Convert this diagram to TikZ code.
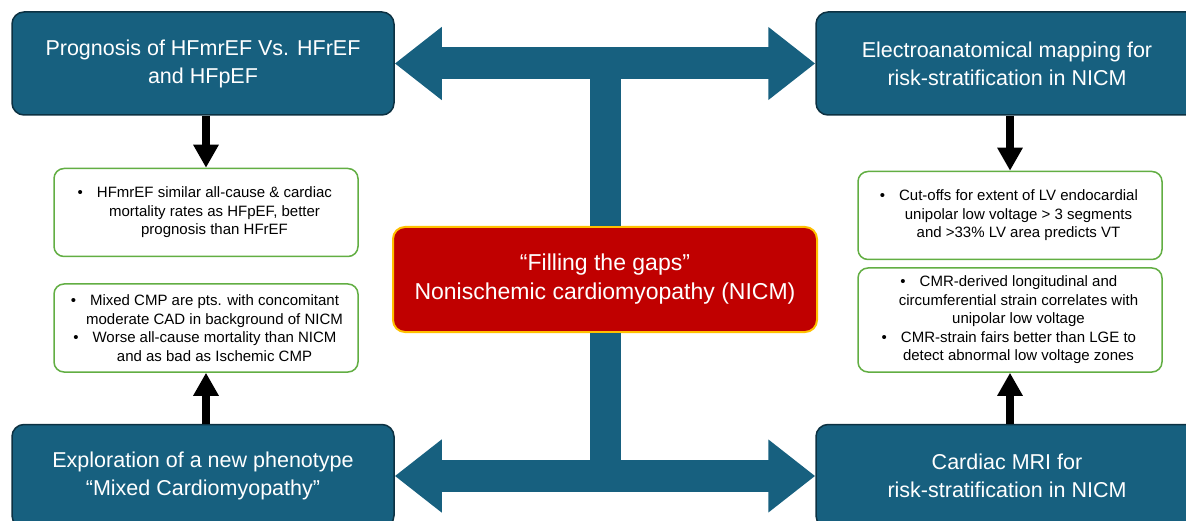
\documentclass[tikz,border=0pt]{standalone}
\usepackage{fontspec}
\setmainfont{Liberation Sans}
\usepackage{tikz}
\usetikzlibrary{arrows.meta}
\usetikzlibrary{positioning}
\definecolor{topicblue}{HTML}{17607F}
\definecolor{topicedge}{HTML}{0C3142}
\definecolor{gapred}{HTML}{C00000}
\definecolor{gapgold}{HTML}{FFC000}
\definecolor{notegreen}{HTML}{62AE43}
\tikzstyle{topic} = [draw=topicedge, line width=1.5pt, fill=topicblue, rounded corners=12pt, text=white, minimum width=382pt, minimum height=103pt, align=center, font=\fontsize{21.5}{28}\selectfont]
\tikzstyle{note} = [draw=notegreen, line width=1.5pt, fill=white, rounded corners=10pt, minimum width=304pt, minimum height=88pt, align=center, font=\fontsize{15}{18.5}\selectfont]
\tikzstyle{gap} = [draw=gapgold, line width=2pt, fill=gapred, rounded corners=12pt, text=white, minimum width=424pt, minimum height=105pt, align=center, font=\fontsize{23}{29}\selectfont]
\tikzstyle{harrow} = [topicblue, line width=32pt, {Triangle[length=47pt,width=70pt]}-{Triangle[length=47pt,width=70pt]}]
\tikzstyle{stem} = [topicblue, line width=31pt]
\tikzstyle{blackarrow} = [line width=8pt, -{Triangle[length=23pt,width=24pt]}]
\newcommand{\bpt}{\hspace*{17pt}\llap{\textbullet\hspace{14pt}}}
\newcommand{\cnt}{\hspace*{17pt}}

\begin{document}
\begin{tikzpicture}[x=1pt,y=1pt]
            \useasboundingbox (0,0) rectangle (1186,-521);
            \node (prog) [topic] at (203,-63.5) {Prognosis of HFmrEF Vs. HFrEF\\and HFpEF};
            \node (elec) [topic] at (1007,-63.5) {Electroanatomical mapping for\\risk-stratification in NICM};
            \node (explore) [topic] at (203,-476) {Exploration of a new phenotype\\“Mixed Cardiomyopathy”};
            \node (mri) [topic] at (1007,-476) {Cardiac MRI for\\risk-stratification in NICM};
            \node (gapbox) [gap] at (605,-279.5) {“Filling the gaps”\\Nonischemic cardiomyopathy (NICM)};

            \node (progtxt) [note, below=52pt of prog, xshift=3pt] {\bpt HFmrEF similar all-cause \& cardiac\\\cnt mortality rates as HFpEF, better\\\cnt prognosis than HFrEF};
            \node (electxt) [note, below=55pt of elec, xshift=3pt] {\bpt Cut-offs for extent of LV endocardial\\\cnt unipolar low voltage > 3 segments\\\cnt and >33\% LV area predicts VT};
            \node (exploretxt) [note, above=51pt of explore, xshift=3pt] {\bpt Mixed CMP are pts. with concomitant\\\cnt moderate CAD in background of NICM\\\bpt Worse all-cause mortality than NICM\\\cnt and as bad as Ischemic CMP};
            \node (mritxt) [note, above=51pt of mri, xshift=3pt, minimum height=104pt] {\bpt CMR-derived longitudinal and\\\cnt circumferential strain correlates with\\\cnt unipolar low voltage\\\bpt CMR-strain fairs better than LGE to\\\cnt detect abnormal low voltage zones};

            \draw [stem] (gapbox.north) -- (gapbox.north |- prog.east);
            \draw [stem] (gapbox.south) -- (gapbox.south |- explore.east);
            \draw [harrow] (prog) -- (elec);
            \draw [harrow] (explore) -- (mri);

            \draw [blackarrow] (progtxt.north |- prog.south) -- (progtxt.north);
            \draw [blackarrow] (electxt.north |- elec.south) -- (electxt.north);
            \draw [blackarrow] (exploretxt.south |- explore.north) -- (exploretxt.south);
            \draw [blackarrow] (mritxt.south |- mri.north) -- (mritxt.south);
\end{tikzpicture}
\end{document}
